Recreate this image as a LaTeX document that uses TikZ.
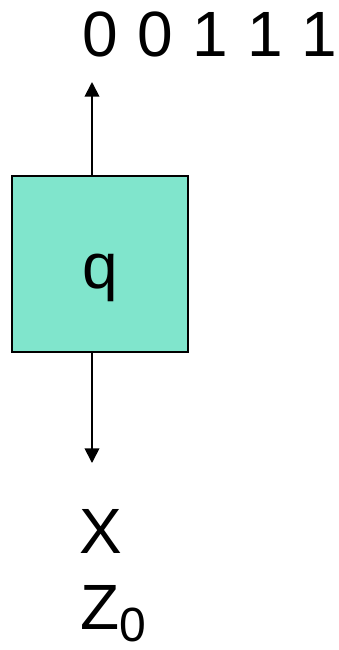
\documentclass[tikz,border=0pt]{standalone}
\usepackage{fontspec}
\setmainfont{Liberation Sans}
\usetikzlibrary{arrows.meta,positioning}
\definecolor{state}{HTML}{80E5CC}
\tikzset{statebox/.style={draw=black,line width=1.5pt,fill=state,minimum width=132pt,minimum height=132pt,inner sep=0pt,text height=45pt,text depth=8pt,font=\fontsize{48}{56}\selectfont},arrow/.style={-{Triangle[length=11pt,width=11pt]},line width=1.3pt},lab/.style={font=\fontsize{48}{56}\selectfont,inner sep=0pt}}

\begin{document}
\begin{tikzpicture}[x=0.75pt,y=-0.75pt]
\useasboundingbox (0,0) rectangle (339,650);
\node[statebox] (q) at (100,263.5) {q};
\coordinate (up) at (92,82);
\coordinate (down) at (92,463);
\draw[arrow] (q.north -| up) -- (up);
\draw[arrow] (q.south -| down) -- (down);
\node[lab,anchor=base west] (tape) at (82,56) {0\hspace{14.5pt}0\hspace{14.5pt}1\hspace{14.5pt}1\hspace{14.5pt}1};
\node[lab,anchor=base west] (sym) at (79,553) {X};
\node[lab,anchor=base west] (stack) at (80,629) {Z{\fontsize{36}{42}\selectfont\raisebox{-9.5pt}[\height][0pt]{0}}};
\end{tikzpicture}
\end{document}
